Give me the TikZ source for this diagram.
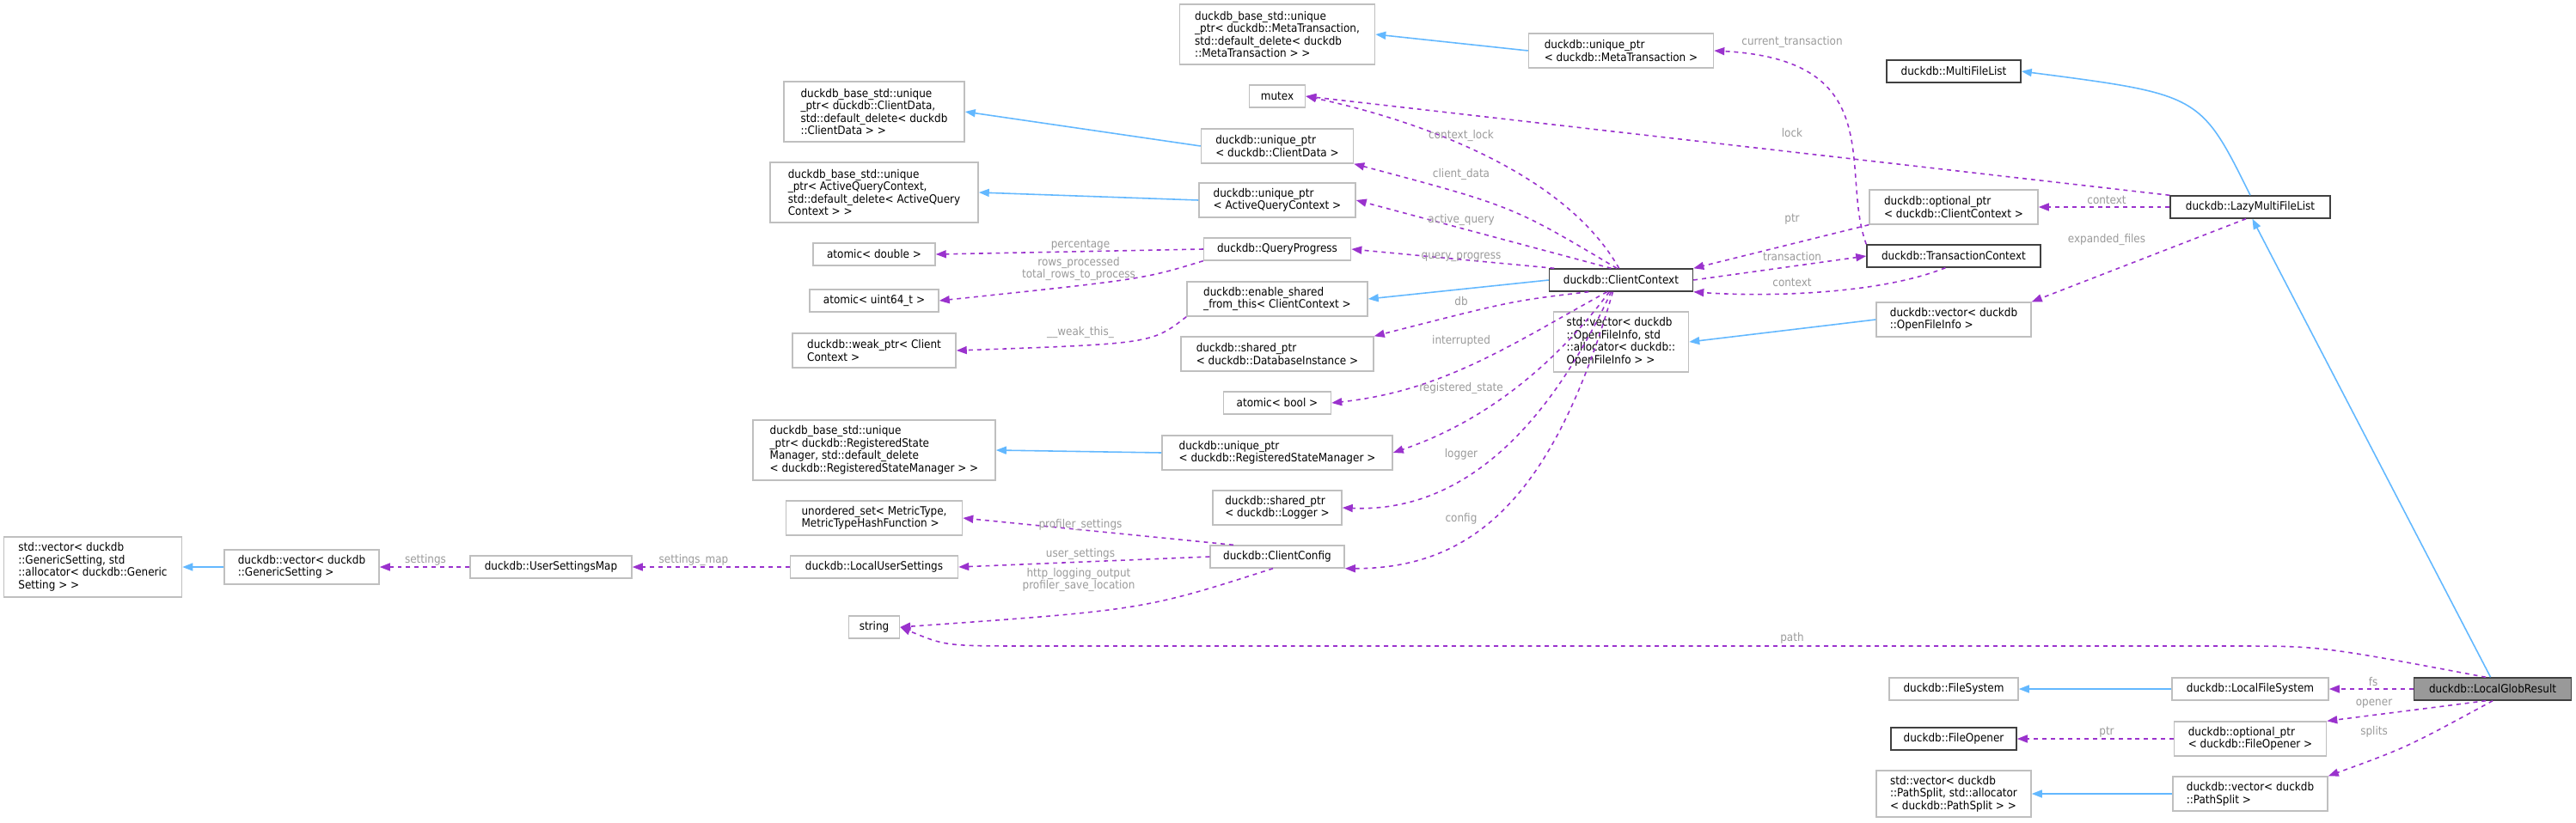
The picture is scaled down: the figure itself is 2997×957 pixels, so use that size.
\documentclass[tikz,border=0pt]{standalone}
\usepackage{fontspec}
\setmainfont{DejaVu Sans Condensed}
\usetikzlibrary{arrows.meta}
\definecolor{inhblue}{HTML}{63B8FF}
\definecolor{usepurple}{HTML}{9A32CD}
\definecolor{lblgray}{HTML}{9A9A9A}
\definecolor{boxgray}{HTML}{BFBFBF}
\begin{document}
\begin{tikzpicture}[x=0.01cm,y=-0.01cm,
    font=\fontsize{3.8}{4.15}\selectfont,
    cls/.style={draw=boxgray,line width=0.4pt,inner xsep=1pt,inner ysep=0pt,align=left,minimum height=0.26cm},
    doc/.style={cls,draw=black!75},
    h2/.style={minimum height=0.40cm},
    h3/.style={minimum height=0.54cm},
    h4/.style={minimum height=0.70cm},
    inh/.style={draw=inhblue,line width=0.45pt,-{Triangle[length=0.12cm,width=0.09cm]}},
    use/.style={draw=usepurple,line width=0.45pt,dash pattern=on 1.4pt off 1.4pt,-{Triangle[length=0.12cm,width=0.09cm]}},
    lbl/.style={text=lblgray,inner sep=0.5pt}]
    \useasboundingbox (0,0) rectangle (2997,957);
    % left column
    \node[cls,h4,minimum width=2.10cm] (cdbase)  at (1017,130) {duckdb\_base\_std::unique\\\_ptr< duckdb::ClientData,\\std::default\_delete< duckdb\\::ClientData > >};
    \node[cls,h4,minimum width=2.42cm] (aqcbase) at (1017,224) {duckdb\_base\_std::unique\\\_ptr< ActiveQueryContext,\\std::default\_delete< ActiveQuery\\Context > >};
    \node[cls,minimum width=1.42cm] (atomicdbl) at (1017,296) {atomic< double >};
    \node[cls,minimum width=1.50cm] (atomicu64) at (1017,350) {atomic< uint64\_t >};
    \node[cls,h2,minimum width=1.90cm] (weakptr) at (1017,408) {duckdb::weak\_ptr< Client\\Context >};
    \node[cls,h4,minimum width=2.82cm] (rsmbase) at (1017,524) {duckdb\_base\_std::unique\\\_ptr< duckdb::RegisteredState\\Manager, std::default\_delete\\< duckdb::RegisteredStateManager > >};
    \node[cls,h2,minimum width=2.05cm] (metricset) at (1017,603) {unordered\_set< MetricType,\\MetricTypeHashFunction >};
    \node[cls,minimum width=1.95cm] (localuser) at (1017,660) {duckdb::LocalUserSettings};
    \node[cls,minimum width=0.59cm] (string) at (1017,730) {string};
    \node[cls,minimum width=1.88cm] (usermap) at (641,660) {duckdb::UserSettingsMap};
    \node[cls,h2,minimum width=1.80cm] (vecgs) at (351,660) {duckdb::vector< duckdb\\::GenericSetting >};
    \node[cls,h4,minimum width=2.07cm] (stdvecgs) at (108,660) {std::vector< duckdb\\::GenericSetting, std\\::allocator< duckdb::Generic\\Setting > >};
    % middle column
    \node[cls,h4,minimum width=2.27cm] (metabase) at (1486,40) {duckdb\_base\_std::unique\\\_ptr< duckdb::MetaTransaction,\\std::default\_delete< duckdb\\::MetaTransaction > >};
    \node[cls,minimum width=0.65cm] (mutex) at (1486,112) {mutex};
    \node[cls,h2,minimum width=1.77cm] (uptrcd) at (1486,170) {duckdb::unique\_ptr\\< duckdb::ClientData >};
    \node[cls,h2,minimum width=1.82cm] (uptraqc) at (1486,233) {duckdb::unique\_ptr\\< ActiveQueryContext >};
    \node[cls,minimum width=1.71cm] (progress) at (1486,290) {duckdb::QueryProgress};
    \node[cls,h2,minimum width=2.10cm] (sharedfrom) at (1486,348) {duckdb::enable\_shared\\\_from\_this< ClientContext >};
    \node[cls,h2,minimum width=2.24cm] (sptrdb) at (1486,412) {duckdb::shared\_ptr\\< duckdb::DatabaseInstance >};
    \node[cls,minimum width=1.25cm] (atomicbool) at (1486,469) {atomic< bool >};
    \node[cls,h2,minimum width=2.68cm] (uptrrsm) at (1486,527) {duckdb::unique\_ptr\\< duckdb::RegisteredStateManager >};
    \node[cls,h2,minimum width=1.50cm] (sptrlog) at (1486,591) {duckdb::shared\_ptr\\< duckdb::Logger >};
    \node[cls,minimum width=1.56cm] (config) at (1486,648) {duckdb::ClientConfig};
    % right part
    \node[cls,h2,minimum width=2.15cm] (uptrmeta) at (1886,59) {duckdb::unique\_ptr\\< duckdb::MetaTransaction >};
    \node[doc,minimum width=1.67cm] (context) at (1886,326) {duckdb::ClientContext};
    \node[cls,h4,minimum width=1.57cm] (stdvecofi) at (1886,398) {std::vector< duckdb\\::OpenFileInfo, std\\::allocator< duckdb::\\OpenFileInfo > >};
    \node[doc,minimum width=1.56cm] (multilist) at (2273,83) {duckdb::MultiFileList};
    \node[cls,h2,minimum width=1.96cm] (optctx) at (2273,241) {duckdb::optional\_ptr\\< duckdb::ClientContext >};
    \node[doc,minimum width=2.02cm] (transctx) at (2273,298) {duckdb::TransactionContext};
    \node[cls,h2,minimum width=1.80cm] (vecofi) at (2273,372) {duckdb::vector< duckdb\\::OpenFileInfo >};
    \node[doc,minimum width=1.86cm] (lazylist) at (2618,241) {duckdb::LazyMultiFileList};
    \node[cls,minimum width=1.50cm] (filesys) at (2273,802) {duckdb::FileSystem};
    \node[doc,minimum width=1.46cm] (opener) at (2273,860) {duckdb::FileOpener};
    \node[cls,h3,minimum width=1.80cm] (stdvecps) at (2273,924) {std::vector< duckdb\\::PathSplit, std::allocator\\< duckdb::PathSplit > >};
    \node[cls,minimum width=1.82cm] (localfs) at (2618,802) {duckdb::LocalFileSystem};
    \node[cls,h2,minimum width=1.77cm] (optopener) at (2618,860) {duckdb::optional\_ptr\\< duckdb::FileOpener >};
    \node[cls,h2,minimum width=1.80cm] (vecps) at (2618,924) {duckdb::vector< duckdb\\::PathSplit >};
    \node[doc,fill=black!40,minimum width=1.83cm] (globresult) at (2900,802) {duckdb::LocalGlobResult};
    % inheritance
    \draw[inh] (uptrmeta.west) -- (metabase.east);
    \draw[inh] (uptrcd.west) -- (cdbase.east);
    \draw[inh] (uptraqc.west) -- (aqcbase.east);
    \draw[inh] (context.west) -- (sharedfrom.east);
    \draw[inh] (vecofi.west) -- (stdvecofi.east);
    \draw[inh] (uptrrsm.west) -- (rsmbase.east);
    \draw[inh] (vecgs.west) -- (stdvecgs.east);
    \draw[inh] (localfs.west) -- (filesys.east);
    \draw[inh] (vecps.west) -- (stdvecps.east);
    \draw[inh] (lazylist.north) .. controls (2560,110) .. (multilist.east);
    \draw[inh] (globresult.100) -- (lazylist.280);
    % members of the client context
    \draw[use] (context.100) .. controls (1820,200) and (1650,140) .. (mutex.east) node[lbl,at={(1700,158)}] {context\_lock};
    \draw[use] (context.110) .. controls (1760,240) .. (uptrcd.south east) node[lbl,at={(1700,203)}] {client\_data};
    \draw[use] (context.130) -- (uptraqc.east) node[lbl,at={(1700,256)}] {active\_query};
    \draw[use] (context.170) -- (progress.east) node[lbl,at={(1700,299)}] {query\_progress};
    \draw[use] (context.200) .. controls (1760,350) .. (sptrdb.north east) node[lbl,at={(1700,351)}] {db};
    \draw[use] (context.220) .. controls (1760,400) and (1680,455) .. (atomicbool.east) node[lbl,at={(1700,397)}] {interrupted};
    \draw[use] (context.225) .. controls (1790,450) and (1700,500) .. (uptrrsm.east) node[lbl,at={(1700,452)}] {registered\_state};
    \draw[use] (context.230) .. controls (1800,500) and (1700,597) .. (sptrlog.east) node[lbl,at={(1700,529)}] {logger};
    \draw[use] (context.235) .. controls (1810,570) and (1720,662) .. (config.south east) node[lbl,at={(1700,604)}] {config};
    \draw[use] (context.east) -- (transctx.west) node[lbl,at={(2085,299)}] {transaction};
    \draw[use] (transctx.235) .. controls (2180,345) and (2040,345) .. (context.south east) node[lbl,at={(2085,329)}] {context};
    \draw[use] (transctx.north west) .. controls (2140,200) and (2200,70) .. (uptrmeta.east) node[lbl,at={(2085,49)}] {current\_transaction};
    \draw[use] (optctx.south west) -- (context.north east) node[lbl,at={(2085,255)}] {ptr};
    % other members
    \draw[use] (progress.west) -- (atomicdbl.east) node[lbl,at={(1257,285)}] {percentage};
    \draw[use] (progress.south west) .. controls (1330,325) .. (atomicu64.east) node[lbl,at={(1255,313)},align=center] {rows\_processed\\total\_rows\_to\_process};
    \draw[use] (sharedfrom.south west) .. controls (1340,400) .. (weakptr.east) node[lbl,at={(1257,387)}] {\_\_weak\_this\_};
    \draw[use] (config.165) -- (metricset.east) node[lbl,at={(1257,611)}] {profiler\_settings};
    \draw[use] (config.west) -- (localuser.east) node[lbl,at={(1257,645)}] {user\_settings};
    \draw[use] (config.250) .. controls (1330,710) .. (string.east) node[lbl,at={(1255,675)},align=center] {http\_logging\_output\\profiler\_save\_location};
    \draw[use] (localuser.west) -- (usermap.east) node[lbl,at={(807,652)}] {settings\_map};
    \draw[use] (usermap.west) -- (vecgs.east) node[lbl,at={(495,652)}] {settings};
    \draw[use] (lazylist.north west) -- (mutex.east) node[lbl,at={(2085,155)}] {lock};
    \draw[use] (lazylist.west) -- (optctx.east) node[lbl,at={(2451,233)}] {context};
    \draw[use] (lazylist.250) -- (vecofi.north east) node[lbl,at={(2451,279)}] {expanded\_files};
    \draw[use] (globresult.120) .. controls (2700,752) .. (2600,752) -- (1200,752) .. controls (1100,752) .. (string.east) node[lbl,at={(2085,743)}] {path};
    \draw[use] (globresult.west) -- (localfs.east) node[lbl,at={(2761,794)}] {fs};
    \draw[use] (globresult.240) -- (optopener.north east) node[lbl,at={(2762,819)}] {opener};
    \draw[use] (globresult.270) .. controls (2800,870) .. (vecps.north east) node[lbl,at={(2762,852)}] {splits};
    \draw[use] (optopener.west) -- (opener.east) node[lbl,at={(2451,852)}] {ptr};
\end{tikzpicture}
\end{document}
